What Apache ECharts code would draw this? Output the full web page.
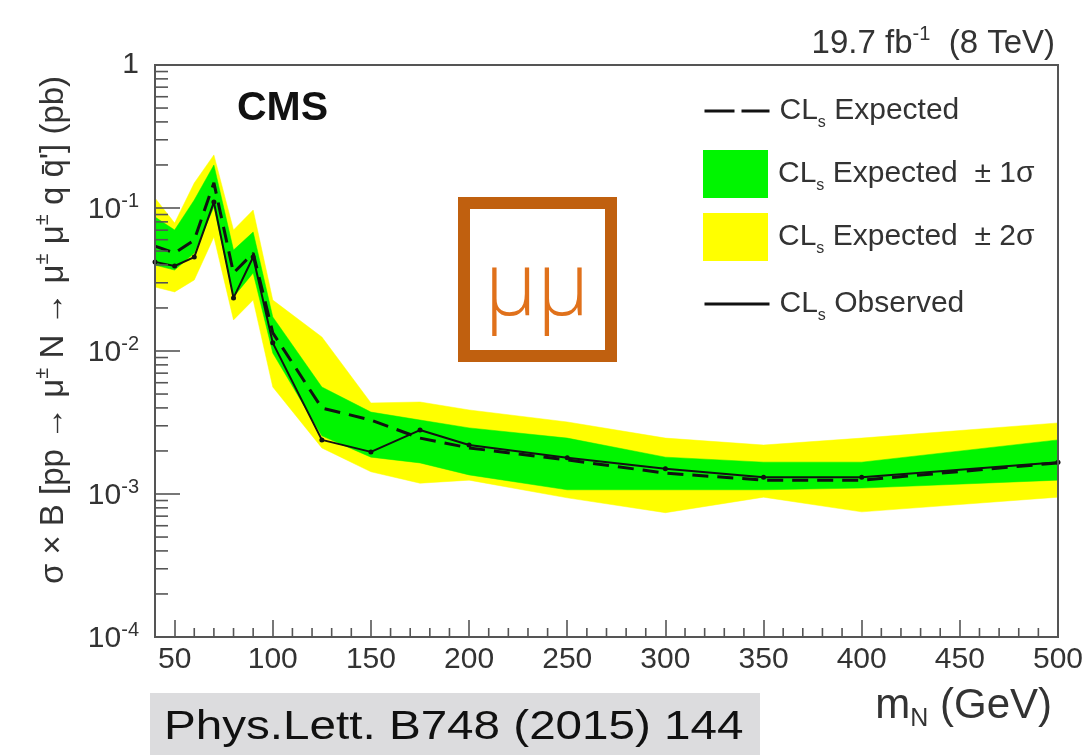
<!DOCTYPE html>
<html>
<head>
<meta charset="utf-8">
<script src="https://cdn.jsdelivr.net/npm/echarts@6/dist/echarts.min.js"></script>
<style>html,body{margin:0;padding:0;background:#fff}#c{width:1088px;height:755px}</style>
</head>
<body>
<div id="c"></div>
<script>
// ---- data ----
const masses   = [40, 50, 60, 70, 80, 90, 100, 125, 150, 175, 200, 250, 300, 350, 400, 500];
const observed = [0.042, 0.0393, 0.0454, 0.110, 0.0235, 0.0454, 0.0114, 0.00239, 0.00197, 0.00280, 0.00220, 0.00179, 0.00150, 0.00131, 0.00131, 0.00167];
const expected = [0.0542, 0.0484, 0.0597, 0.150, 0.0351, 0.0484, 0.0134, 0.00399, 0.00329, 0.00246, 0.00210, 0.00173, 0.00140, 0.00125, 0.00125, 0.00165];
const sig1Hi   = [0.0865, 0.0702, 0.1137, 0.200, 0.0508, 0.0679, 0.0173, 0.0056, 0.00374, 0.00329, 0.00290, 0.00246, 0.00181, 0.00167, 0.00167, 0.00239];
const sig1Lo   = [0.0399, 0.0368, 0.0484, 0.1016, 0.0239, 0.0351, 0.00968, 0.00255, 0.00181, 0.00165, 0.00136, 0.00107, 0.00107, 0.00107, 0.00110, 0.00125];
const sig2Hi   = [0.1175, 0.0785, 0.1496, 0.235, 0.0702, 0.0968, 0.0227, 0.01253, 0.00433, 0.00440, 0.00387, 0.00319, 0.00246, 0.00220, 0.00246, 0.00314];
const sig2Lo   = [0.0280, 0.0259, 0.0314, 0.0627, 0.0165, 0.0227, 0.0056, 0.00210, 0.00143, 0.00119, 0.00125, 0.00094, 0.00074, 0.00095, 0.00075, 0.00095];
const xTickLabels = [50, 100, 150, 200, 250, 300, 350, 400, 450, 500];
const xMinorTicks = [60, 70, 80, 90, 110, 120, 130, 140, 160, 170, 180, 190, 210, 220, 230, 240, 260, 270, 280, 290, 310, 320, 330, 340, 360, 370, 380, 390, 410, 420, 430, 440, 460, 470, 480, 490];
const yDecades = [1e-4, 1e-3, 1e-2, 1e-1];
const yMinorMult = [2, 3, 4, 5, 6, 7, 8, 9];
const legendNames = ['CLs Expected', 'CLs Expected  ± 1σ', 'CLs Expected  ± 2σ', 'CLs Observed'];
const xMin = 40, xMax = 500, yMin = 1e-4, yMax = 1;

const yMinorTicks = [];
yDecades.forEach(d => yMinorMult.forEach(m => yMinorTicks.push(d * m)));

const FONT = 'Liberation Sans, Arial, Helvetica, sans-serif';
const AX = '#555';
const YELLOW = '#ffff00', GREEN = '#00f500';

function bandSeries(name, lo, hi, color, z) {
  return {
    name: name, type: 'custom', z: z, silent: true,
    itemStyle: { color: color },
    data: masses.map((m, i) => [m, lo[i], hi[i]]),
    encode: { x: 0, y: [1, 2] },
    renderItem: function (params, api) {
      if (params.dataIndex !== 0) return null;
      const pts = [];
      for (let i = 0; i < masses.length; i++) pts.push(api.coord([masses[i], hi[i]]));
      for (let i = masses.length - 1; i >= 0; i--) pts.push(api.coord([masses[i], lo[i]]));
      return { type: 'polygon', shape: { points: pts }, style: { fill: color, stroke: color, lineWidth: 0.5 } };
    }
  };
}

function tickSeries(data, dx, dy) {
  return {
    type: 'custom', z: 12, silent: true, clip: false,
    data: data, encode: { x: 0, y: 1 },
    renderItem: function (params, api) {
      const p = api.coord([api.value(0), api.value(1)]);
      return { type: 'line', shape: { x1: p[0], y1: p[1], x2: p[0] + dx, y2: p[1] + dy }, style: { stroke: AX, lineWidth: 1.6 } };
    }
  };
}

function makeLegend(item, top) {
  return {
    orient: 'vertical', left: 703, top: top, padding: 0,
    itemWidth: 65, itemHeight: 48,
    selectedMode: false,
    textStyle: {
      fontSize: 30, color: '#333', fontFamily: FONT, lineHeight: 40, padding: [0, 0, 0, 5],
      rich: { s: { fontSize: 16, lineHeight: 16, verticalAlign: 'bottom', color: '#333', fontFamily: FONT } }
    },
    formatter: function (name) { return name.replace('CLs', 'CL{s|s}'); },
    data: [item]
  };
}

const chart = echarts.init(document.getElementById('c'), null, { renderer: 'canvas' });

const option = {
  animation: false,
  backgroundColor: '#fff',
  textStyle: { fontFamily: FONT },
  grid: { left: 155, right: 30, top: 65, bottom: 118, show: true, borderColor: AX, borderWidth: 2, z: 10 },
  xAxis: {
    type: 'value', min: xMin, max: xMax, z: 10,
    axisLine: { show: true, lineStyle: { color: AX, width: 2 } },
    axisTick: { show: true, inside: true, length: 17, customValues: xTickLabels, lineStyle: { color: AX, width: 1.6 } },
    axisLabel: { customValues: xTickLabels, fontSize: 30, color: '#333', margin: 8, fontFamily: FONT },
    splitLine: { show: false }
  },
  yAxis: {
    type: 'log', logBase: 10, min: yMin, max: yMax, z: 10,
    axisLine: { show: true, lineStyle: { color: AX, width: 2 } },
    axisTick: { show: true, inside: true, length: 25, lineStyle: { color: AX, width: 1.6 } },
    axisLabel: {
      fontSize: 30, color: '#333', margin: 16, fontFamily: FONT,
      formatter: function (v) {
        const e = Math.round(Math.log10(v));
        if (e === 0) return '1';
        return '{b|10}{s|' + e + '}';
      },
      rich: {
        b: { fontSize: 30, lineHeight: 34, verticalAlign: 'bottom', color: '#333', fontFamily: FONT },
        s: { fontSize: 20, lineHeight: 20, padding: [0, 0, 20, 0], verticalAlign: 'top', color: '#333', fontFamily: FONT }
      }
    },
    splitLine: { show: false }
  },
  legend: [
    makeLegend({ name: legendNames[0], itemStyle: { opacity: 0 }, lineStyle: { color: '#111', width: 3, type: [30, 7] } }, 91),
    makeLegend({ name: legendNames[1], icon: 'rect' }, 150),
    makeLegend({ name: legendNames[2], icon: 'rect' }, 213),
    makeLegend({ name: legendNames[3], itemStyle: { opacity: 0 }, lineStyle: { color: '#111', width: 3 } }, 284)
  ],
  series: [
    bandSeries(legendNames[2], sig2Lo, sig2Hi, YELLOW, 2),
    bandSeries(legendNames[1], sig1Lo, sig1Hi, GREEN, 3),
    {
      name: legendNames[0], type: 'line', z: 5, silent: true,
      data: masses.map((m, i) => [m, expected[i]]),
      showSymbol: false, symbol: 'none',
      lineStyle: { color: '#111', width: 3, type: [16, 9] }
    },
    {
      name: legendNames[3], type: 'line', z: 6, silent: true,
      data: masses.map((m, i) => [m, observed[i]]),
      symbol: 'circle', symbolSize: 5, showSymbol: true,
      itemStyle: { color: '#111' },
      lineStyle: { color: '#111', width: 2 }
    },
    tickSeries(xMinorTicks.map(v => [v, yMin]), 0, -9),
    tickSeries(yMinorTicks.map(v => [xMin, v]), 13, 0)
  ],
  graphic: [
    {
      type: 'text', x: 1055, y: 44, z: 20,
      style: {
        text: '19.7 fb{sup|-1}  (8 TeV)', fill: '#333', fontSize: 33, fontFamily: FONT, lineHeight: 40,
        align: 'right', verticalAlign: 'middle', textAlign: 'right', textVerticalAlign: 'middle',
        rich: { sup: { fontSize: 20, lineHeight: 20, verticalAlign: 'top', fill: '#333', fontFamily: FONT } }
      }
    },
    {
      type: 'text', x: 237, y: 109, z: 20,
      style: { text: 'CMS', fill: '#111', fontSize: 41, fontWeight: 'bold', fontFamily: FONT, align: 'left', verticalAlign: 'middle', textAlign: 'left', textVerticalAlign: 'middle' }
    },
    {
      type: 'text', x: 54, y: 330, rotation: Math.PI / 2, z: 20,
      style: {
        text: 'σ × B [pp → μ{sup|±} N → μ{sup|±} μ{sup|±} q q\u0304\'] (pb)',
        fill: '#333', fontSize: 33, fontFamily: FONT, lineHeight: 44,
        align: 'center', verticalAlign: 'middle', textAlign: 'center', textVerticalAlign: 'middle',
        rich: { sup: { fontSize: 20, lineHeight: 20, verticalAlign: 'top', fill: '#333', fontFamily: FONT } }
      }
    },
    {
      type: 'text', x: 1052, y: 706, z: 20,
      style: {
        text: 'm{sub|N} (GeV)', fill: '#333', fontSize: 42, fontFamily: FONT, lineHeight: 52,
        align: 'right', verticalAlign: 'middle', textAlign: 'right', textVerticalAlign: 'middle',
        rich: { sub: { fontSize: 25, lineHeight: 25, verticalAlign: 'bottom', fill: '#333', fontFamily: FONT } }
      }
    },
    {
      type: 'rect', z: 15, shape: { x: 150, y: 693, width: 610, height: 62 },
      style: { fill: '#dcdcde' }
    },
    {
      type: 'text', x: 164, y: 728, z: 16, scaleX: 1.19,
      style: { text: 'Phys.Lett. B748 (2015) 144', fill: '#111', fontSize: 40, fontFamily: FONT, align: 'left', verticalAlign: 'middle', textAlign: 'left', textVerticalAlign: 'middle' }
    },
    {
      type: 'rect', z: 15, shape: { x: 464, y: 203, width: 147, height: 153 },
      style: { fill: '#fff', stroke: '#c0600f', lineWidth: 12 }
    },
    {
      type: 'text', x: 537, y: 290, z: 16,
      style: { text: 'μμ', fill: '#e0711b', fontSize: 88, fontFamily: 'Open Sans, Noto Sans, sans-serif', fontWeight: 300, align: 'center', verticalAlign: 'middle', textAlign: 'center', textVerticalAlign: 'middle' }
    }
  ]
};
chart.setOption(option);
</script>
</body>
</html>
